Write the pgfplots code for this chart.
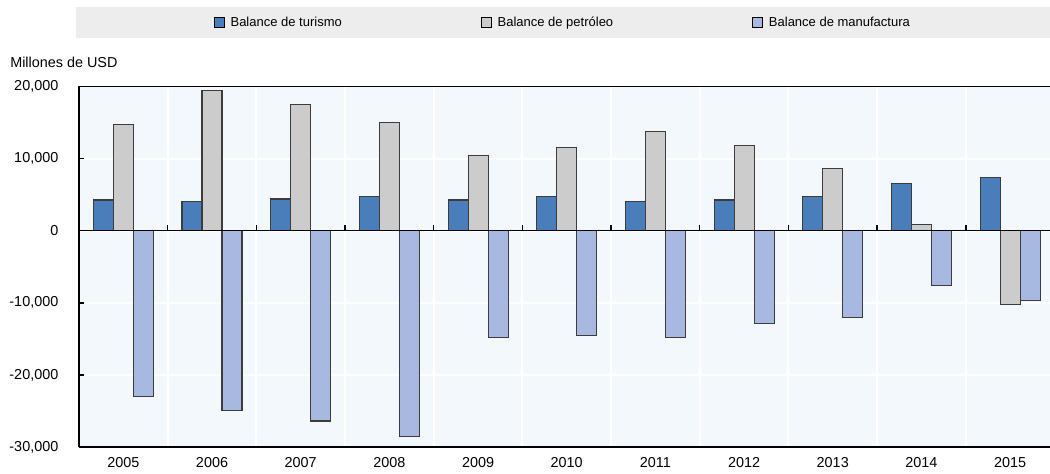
\documentclass[border=0pt]{standalone}
\usepackage{fontspec}
\setmainfont{Liberation Sans}
\usepackage{pgfplots}
\pgfplotsset{compat=1.18}
\definecolor{turismo}{HTML}{4A7EBB}
\definecolor{petroleo}{HTML}{CCCCCC}
\definecolor{manuf}{HTML}{A7B9E0}
\definecolor{edgegray}{HTML}{3C3C3C}
\definecolor{plotbg}{HTML}{F3F8FD}
\definecolor{bandgray}{HTML}{EDEDED}

\begin{document}
\begin{tikzpicture}
\useasboundingbox (0,0) rectangle (787.5pt,355.5pt);
\fill[bandgray] (57pt,327.2pt) rectangle (787.5pt,350.25pt);
\node[anchor=west,inner sep=0pt,font=\fontsize{10.8}{13}\selectfont] at (7.5pt,309pt) {Millones de USD};
\begin{axis}[
  at={(59.25pt,20.25pt)},anchor=south west,
  scale only axis,width=728.25pt,height=270.375pt,
  xmin=-0.5,xmax=10.45,ymin=-30000,ymax=20000,
  axis x line=box,axis y line=left,
  axis line style={-,black,line width=1.1pt},
  axis background/.style={fill=plotbg},
  xtick={0,...,10},
  xticklabels={2005,2006,2007,2008,2009,2010,2011,2012,2013,2014,2015},
  minor xtick={0.5,1.5,...,9.5},
  xtick style={draw=none},minor x tick style={draw=none},minor tick length=0pt,
  xminorgrids=true,ymajorgrids=true,
  grid style={white,line width=1.5pt},
  ytick={-30000,-20000,-10000,0,10000,20000},
  ytick pos=left,tick align=inside,major tick length=3.75pt,
  y tick style={black,line width=1.1pt},
  scaled y ticks=false,
  /pgf/number format/assume math mode=true,
  /pgf/number format/1000 sep={,},
  tick label style={font=\fontsize{10.8}{13}\selectfont},
  yticklabel style={xshift=-12pt},
  xticklabel style={yshift=-4pt},
  legend style={at={(0.4985,1.178)},anchor=center,draw=none,fill=none,
    font=\fontsize{9.75}{11}\selectfont,
    /tikz/every even column/.append style={column sep=102pt}},
  legend columns=3,
  legend image code/.code={\draw[#1,draw=black] (0pt,-3.75pt) rectangle (7.5pt,3.75pt); \path (10pt,0pt);},
]
\addplot[ybar,bar width=15pt,bar shift=-15pt,fill=turismo,draw=edgegray,line width=0.8pt]
  coordinates {(0,4260) (1,4080) (2,4400) (3,4700) (4,4260) (5,4720) (6,4080) (7,4260) (8,4720) (9,6530) (10,7320)};
\addlegendentry{Balance de turismo}
\addplot[ybar,bar width=15pt,bar shift=0pt,fill=petroleo,draw=edgegray,line width=0.8pt]
  coordinates {(0,14680) (1,19500) (2,17550) (3,14960) (4,10420) (5,11530) (6,13800) (7,11860) (8,8610) (9,890) (10,-10180)};
\addlegendentry{Balance de petróleo}
\addplot[ybar,bar width=15pt,bar shift=15pt,fill=manuf,draw=edgegray,line width=0.8pt]
  coordinates {(0,-22960) (1,-24940) (2,-26390) (3,-28510) (4,-14860) (5,-14530) (6,-14860) (7,-12920) (8,-12080) (9,-7580) (10,-9720)};
\addlegendentry{Balance de manufactura}
% zero line and the small category ticks on it
\addplot[forget plot,black,line width=1.1pt] coordinates {(-0.5,0) (10.45,0)};
\addplot[forget plot,ycomb,black,line width=1.1pt,mark=none]
  coordinates {(0.5,800) (1.5,800) (2.5,800) (3.5,800) (4.5,800) (5.5,800) (6.5,800) (7.5,800) (8.5,800) (9.5,800)};
\end{axis}
\end{tikzpicture}
\end{document}
